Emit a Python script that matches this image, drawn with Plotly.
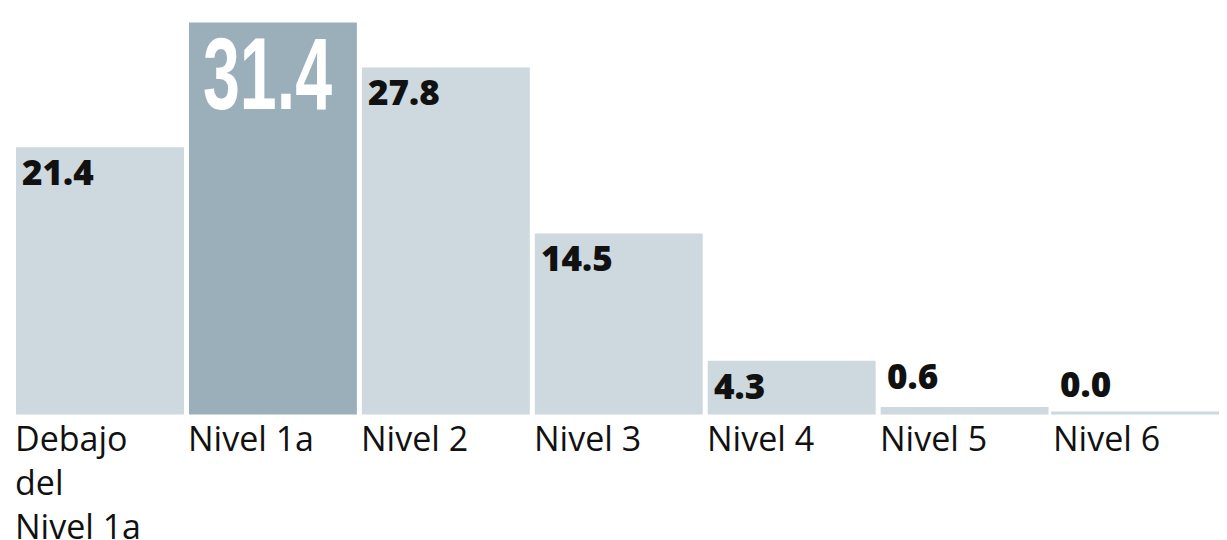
import plotly.graph_objects as go

categories = ["Debajo del Nivel 1a", "Nivel 1a", "Nivel 2", "Nivel 3", "Nivel 4", "Nivel 5", "Nivel 6"]
tick_labels = ["Debajo<br>del<br>Nivel 1a", "Nivel 1a", "Nivel 2", "Nivel 3", "Nivel 4", "Nivel 5", "Nivel 6"]
values = [21.4, 31.4, 27.8, 14.5, 4.3, 0.6, 0.0]
highlight = "Nivel 1a"

LIGHT = "#cdd8df"
DARK = "#9aafba"

# page body has an 8px margin, so the figure is sized to the visible area
W, H = 1219, 532
ML, MR, MT, MB = 5, 3, 7, 124
BARGAP = 0.029
slot = (W - ML - MR) / len(categories)
half_bar = slot * (1 - BARGAP) / 2
STUB = 0.25  # minimum visible height for zero-valued bars

colors = [DARK if c == highlight else LIGHT for c in categories]

fig = go.Figure(go.Bar(
    x=categories, y=values, marker=dict(color=colors, line=dict(width=0)),
    hoverinfo="skip",
))

shapes = []
for i, v in enumerate(values):
    if v == 0:
        shapes.append(dict(type="rect", xref="x", yref="y", x0=i - 0.5, x1=i + (1 - BARGAP) / 2,
                           y0=0, y1=STUB, line=dict(width=0), fillcolor=LIGHT, layer="below"))

annotations = []
for c, lab in zip(categories, tick_labels):
    annotations.append(dict(
        x=c, y=0, xref="x", yref="y", text=lab, showarrow=False,
        xanchor="left", yanchor="top", align="left", xshift=-half_bar - 3, yshift=2,
        font=dict(family="Open Sans, Noto Sans, sans-serif", size=34, color="#111111"),
    ))

for c, v in zip(categories, values):
    if c == highlight:
        annotations.append(dict(
            x=c, y=v, xref="x", yref="y", text=f"{v:.1f}", showarrow=False,
            xanchor="left", yanchor="top", xshift=-half_bar + 12, yshift=7,
            font=dict(family="Liberation Sans, Arial, sans-serif", size=102, color="#ffffff", weight=700),
        ))
    elif v >= 2:
        annotations.append(dict(
            x=c, y=v, xref="x", yref="y", text=f"{v:.1f}", showarrow=False,
            xanchor="left", yanchor="top", xshift=-half_bar + 4, yshift=1,
            font=dict(family="Open Sans, sans-serif", size=35, color="#111111", weight=800),
        ))
    else:
        annotations.append(dict(
            x=c, y=v, xref="x", yref="y", text=f"{v:.1f}", showarrow=False,
            xanchor="left", yanchor="bottom", xshift=-half_bar + 4, yshift=6,
            font=dict(family="Open Sans, sans-serif", size=35, color="#111111", weight=800),
        ))

fig.update_layout(
    width=W, height=H,
    margin=dict(l=ML, r=MR, t=MT, b=MB, pad=0),
    paper_bgcolor="white", plot_bgcolor="white",
    bargap=BARGAP, showlegend=False,
    xaxis=dict(showticklabels=False, showgrid=False, zeroline=False, showline=False, ticks=""),
    yaxis=dict(range=[-0.12, 32.0], showticklabels=False, showgrid=False,
               zeroline=False, showline=False, ticks=""),
    annotations=annotations,
    shapes=shapes,
)

# condense the big highlighted figure horizontally (the original uses a condensed display face)
post = """
var gd = document.getElementById('{plot_id}');
function condense(){
  gd.querySelectorAll('text.annotation-text').forEach(function(t){
    if (t.textContent.trim() === '%s') {
      t.style.transformBox = 'fill-box';
      t.style.transformOrigin = 'left center';
      t.style.transform = 'scaleX(0.65)';
    }
  });
}
condense();
gd.on('plotly_afterplot', condense);
""" % f"{values[categories.index(highlight)]:.1f}"

fig.write_html("out.html", config={"displayModeBar": False}, post_script=post)
